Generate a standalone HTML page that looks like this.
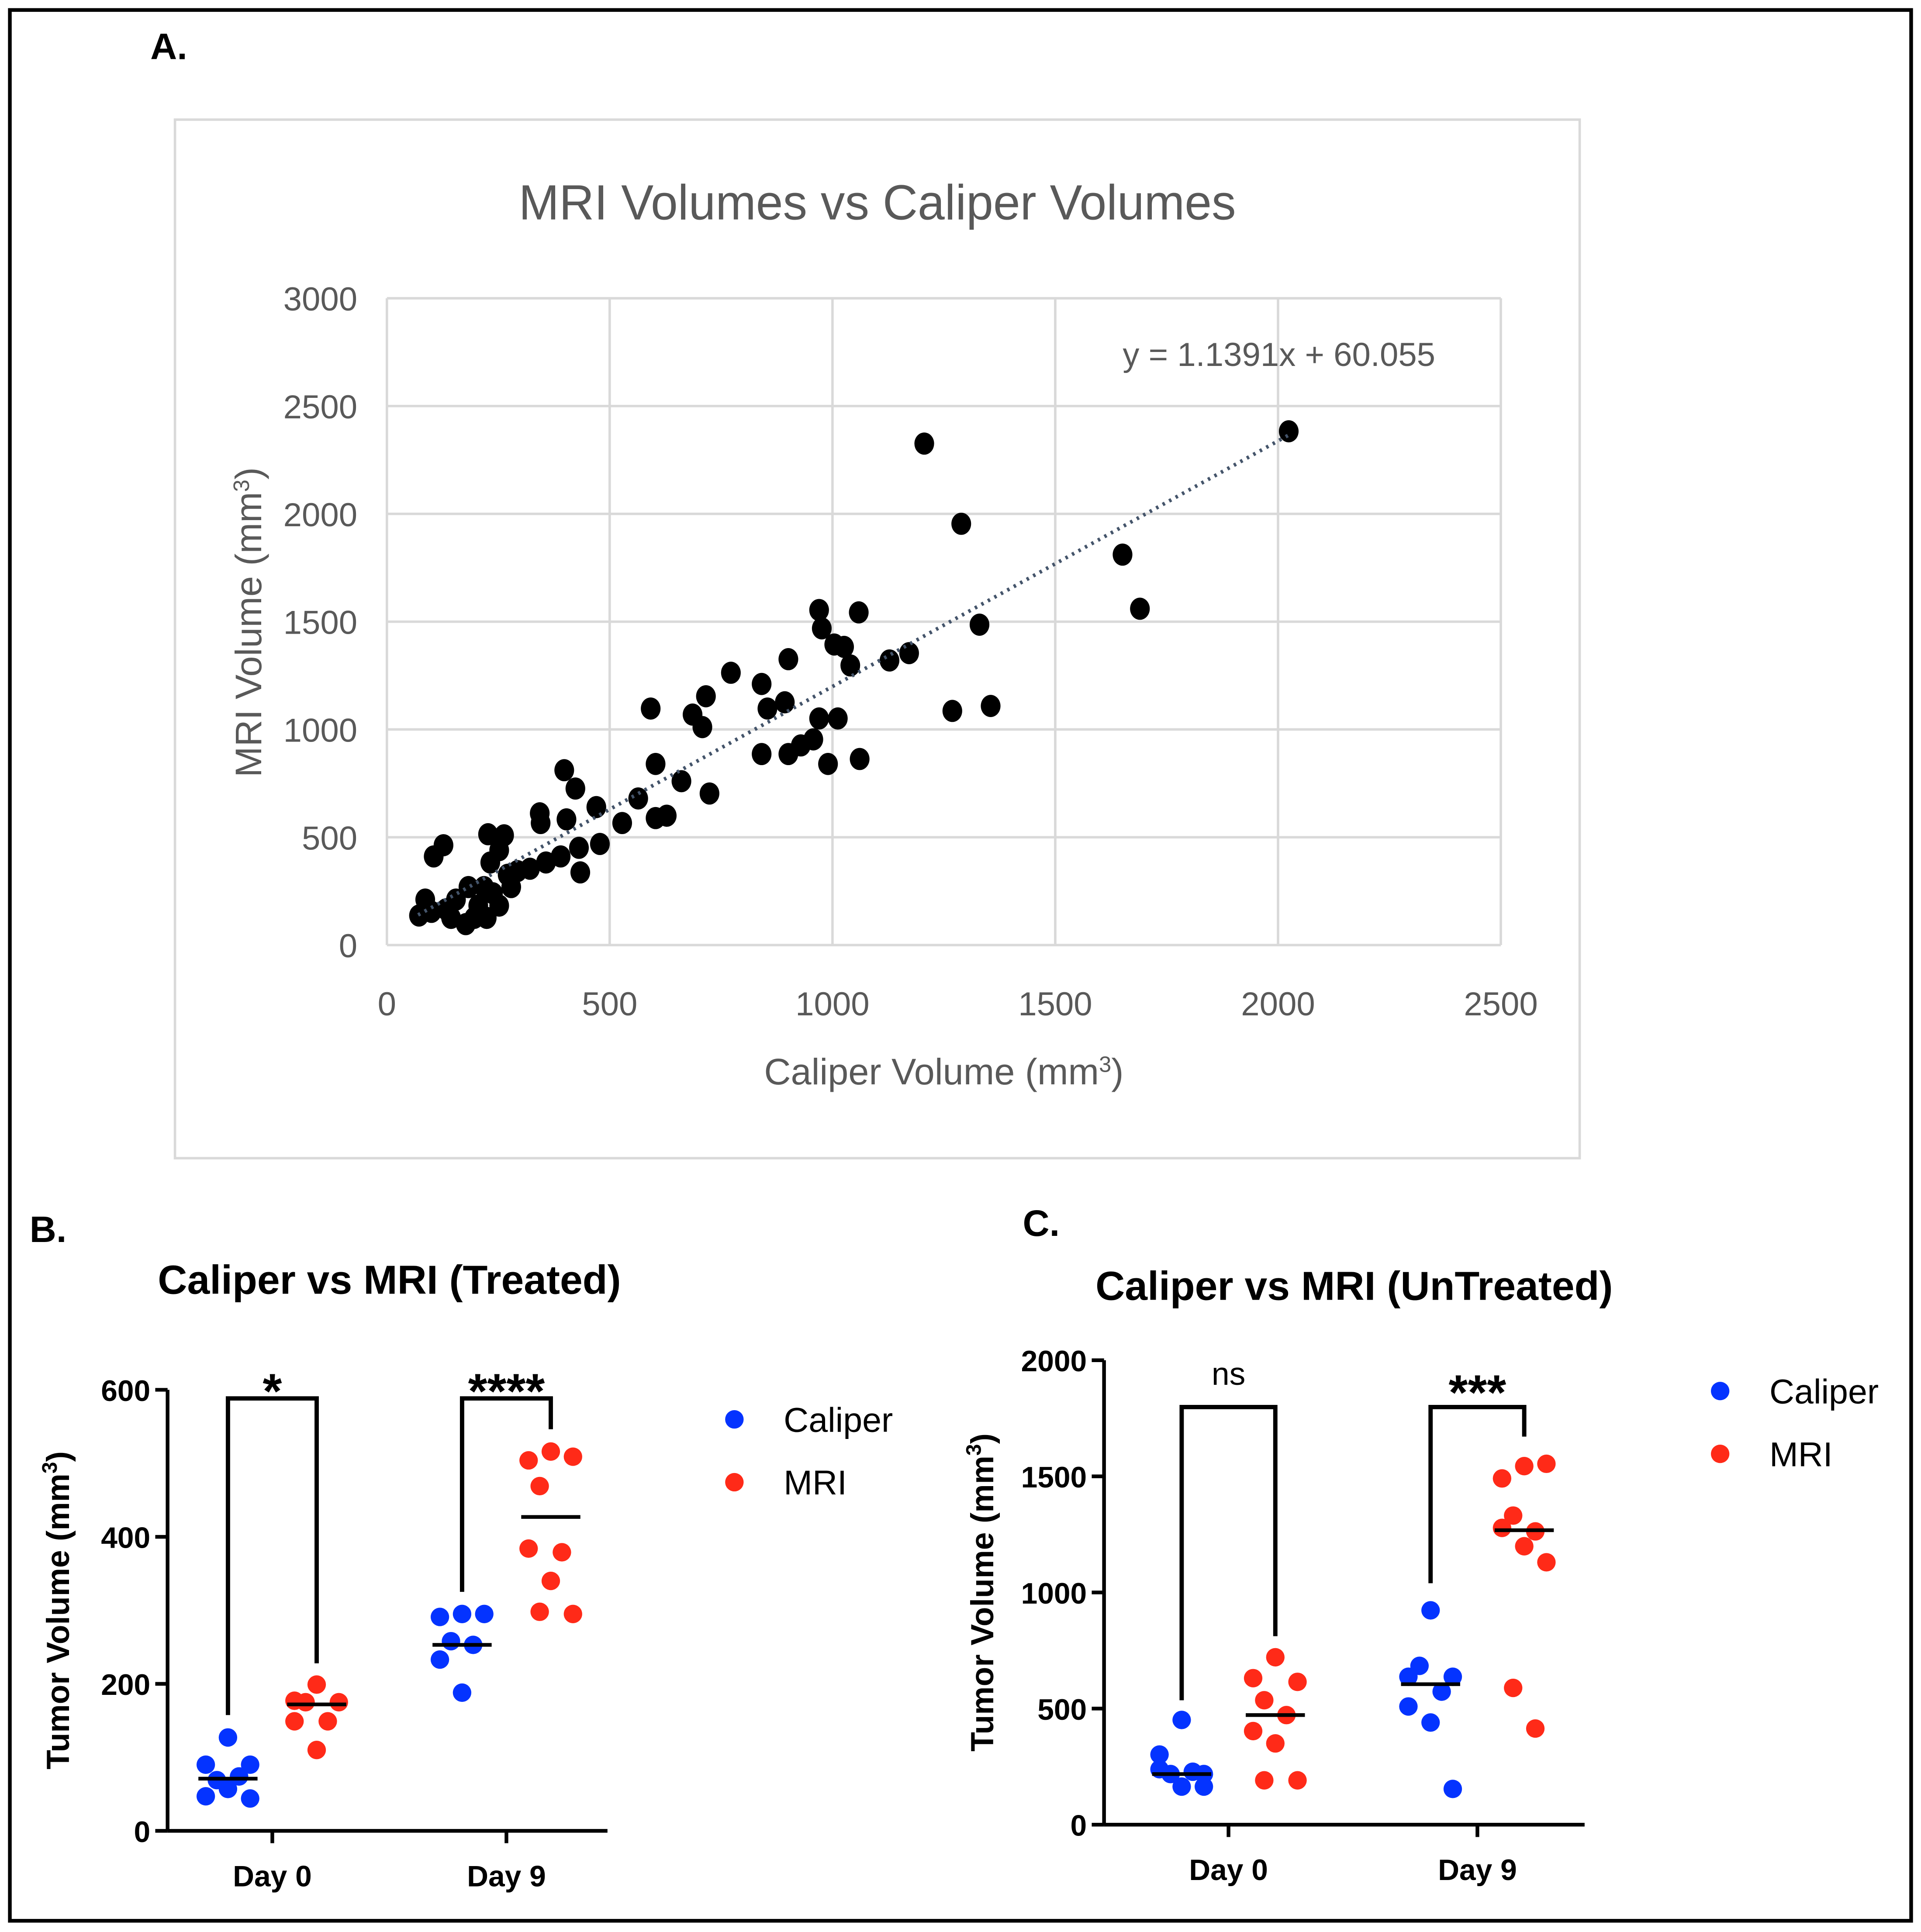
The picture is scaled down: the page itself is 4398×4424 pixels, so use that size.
<!DOCTYPE html>
<html><head><meta charset="utf-8"><style>
html,body{margin:0;padding:0;background:#fff;}
svg{display:block;}
text{font-family:"Liberation Sans",sans-serif;}
</style></head><body>
<svg id="fig" width="4398" height="4424" viewBox="0 0 1559 1568" xmlns="http://www.w3.org/2000/svg">
<rect x="8" y="8" width="1543" height="1551" fill="#fff" stroke="#000" stroke-width="3"/>
<text x="122" y="48" font-size="30" font-weight="bold">A.</text>
<rect x="142" y="97" width="1140" height="843" fill="#fff" stroke="#d9d9d9" stroke-width="2"/>
<text x="712" y="178" font-size="40" fill="#595959" text-anchor="middle" textLength="582" lengthAdjust="spacingAndGlyphs">MRI Volumes vs Caliper Volumes</text>
<g id="scatter"></g>
<text x="1038" y="297" font-size="27" fill="#595959" text-anchor="middle">y = 1.1391x + 60.055</text>
<text x="766" y="880" font-size="30" fill="#595959" text-anchor="middle">Caliper Volume (mm<tspan dy="-10" font-size="18">3</tspan><tspan dy="10">)</tspan></text>
<text transform="translate(212,505) rotate(-90)" font-size="30" fill="#595959" text-anchor="middle">MRI Volume (mm<tspan dy="-10" font-size="18">3</tspan><tspan dy="10">)</tspan></text>

<text x="24" y="1008" font-size="30" font-weight="bold">B.</text>
<text x="316" y="1050" font-size="33" font-weight="bold" text-anchor="middle">Caliper vs MRI (Treated)</text>
<text x="830" y="1003" font-size="30" font-weight="bold">C.</text>
<text x="1099" y="1055" font-size="33" font-weight="bold" text-anchor="middle">Caliper vs MRI (UnTreated)</text>
<g id="panelB"></g>
<g id="panelC"></g>
</svg>
<script>
const NS="http://www.w3.org/2000/svg";
function mk(parent,tag,attrs,txt){const e=document.createElementNS(NS,tag);for(const k in attrs)e.setAttribute(k,attrs[k]);if(txt!==undefined)e.textContent=txt;parent.appendChild(e);return e;}

// ---- Panel A data ----
const scatterX=[1206,2024,1289,1651,1690,1330,1269,1355,1059,970,976,1004,1026,1040,1128,1172,901,772,716,686,708,592,841,854,893,841,901,929,957,970,1012,990,1061,603,628,603,661,724,564,528,470,478,431,398,423,403,343,345,434,390,357,321,293,252,263,227,232,218,252,205,183,155,177,133,100,72,105,127,86,271,196,224,238,144,279];
const scatterY=[2326,2383,1954,1811,1560,1486,1086,1109,1543,1554,1469,1394,1383,1297,1320,1354,1326,1263,1154,1069,1011,1097,1211,1097,1126,886,886,926,954,1051,1051,840,863,840,600,589,760,703,680,566,640,469,451,811,726,583,611,566,337,411,383,354,343,440,509,514,383,269,183,183,269,211,97,166,154,137,411,463,211,326,126,126,240,126,269];
const xTicks=[0,500,1000,1500,2000,2500];
const yTicks=[0,500,1000,1500,2000,2500,3000];
const trendSlope=1.1391, trendIntercept=60.055, trendRange=[70,2024];

const sx=v=>314+v*(1218-314)/2500;
const sy=v=>767-v*(767-242)/3000;
const sc=document.getElementById('scatter');
xTicks.forEach(t=>{
  const l=mk(sc,'line',{x1:sx(t),x2:sx(t),y1:242,y2:767,stroke:'#d9d9d9','stroke-width':2});
  
  
  const tx=mk(sc,'text',{x:sx(t),y:824,'font-size':27,fill:'#595959','text-anchor':'middle'},t);
  
  
});
yTicks.forEach(t=>{
  const l=mk(sc,'line',{x1:314,x2:1218,y1:sy(t),y2:sy(t),stroke:'#d9d9d9','stroke-width':2});
  
  
  const tx=mk(sc,'text',{x:290,y:sy(t)+10,'font-size':27,fill:'#595959','text-anchor':'end'},t);
  
  
});
scatterX.forEach((x,i)=>{
  const c=mk(sc,'ellipse',{cx:sx(x),cy:sy(scatterY[i]),rx:8,ry:9,fill:'#000'});
  
  
});
const tl=mk(sc,'line',{x1:sx(trendRange[0]),y1:sy(trendSlope*trendRange[0]+trendIntercept),x2:sx(trendRange[1]),y2:sy(trendSlope*trendRange[1]+trendIntercept),stroke:'#44546a','stroke-width':3,'stroke-dasharray':'2 4'});



// ---- Panel B data ----
const bGroups=['Day 0','Day 9'];
const bCaliperD0=[127,90,90,69,74,47,57,44];
const bMriD0=[199,177,175,175,149,149,110];
const bCaliperD9=[295,291,295,258,253,233,188];
const bMriD9=[516,504,509,469,379,384,340,295,298];
const bMedians=[71,172,253,427];
const bYTicks=[0,200,400,600];
const bSig=['*','****'];
// ---- Panel C data ----
const cGroups=['Day 0','Day 9'];
const cCaliperD0=[451,302,218,218,228,239,164,164];
const cMriD0=[721,631,615,536,472,403,350,191,191];
const cCaliperD9=[923,637,637,684,573,509,440,154];
const cMriD9=[1544,1491,1554,1331,1263,1278,1199,1130,589,414];
const cMedians=[218,472,605,1268];
const cYTicks=[0,500,1000,1500,2000];
const cSig=['ns','***'];

const jitter=[0,-18,18,-9,9,-18,0,18,-9,9];
function drawPanel(g,o){
  const y=v=>o.y0-v*(o.y0-o.yTop)/o.ymax;
  mk(g,'line',{x1:o.ax,x2:o.ax,y1:o.yTop,y2:o.y0,stroke:'#000','stroke-width':3});
  mk(g,'line',{x1:o.ax,x2:o.axEnd,y1:o.y0,y2:o.y0,stroke:'#000','stroke-width':3});
  o.yTicks.forEach(t=>{
    const l=mk(g,'line',{x1:o.ax-10,x2:o.ax,y1:y(t),y2:y(t),stroke:'#000','stroke-width':3});
    
    
    const tx=mk(g,'text',{x:o.ax-14,y:y(t)+9,'font-size':24,'font-weight':'bold','text-anchor':'end'},t);
    
    
  });
  o.groups.forEach((gn,i)=>{
    const cx=o.gx[i];
    mk(g,'line',{x1:cx,x2:cx,y1:o.y0,y2:o.y0+10,stroke:'#000','stroke-width':3});
    const tx=mk(g,'text',{x:cx,y:o.y0+45,'font-size':24,'font-weight':'bold','text-anchor':'middle'},gn);
    
    
    const sets=[[o.cal[i],'#0433ff',-o.off],[o.mri[i],'#ff2a18',o.off]];
    sets.forEach(([vals,col,off],k)=>{
      vals.forEach((v,j)=>{
        const c=mk(g,'circle',{cx:cx+off+jitter[j%jitter.length],cy:y(v),r:7.5,fill:col});
        
        
      });
      const m=o.med[i*2+k];
      const ml=mk(g,'line',{x1:cx+off-24,x2:cx+off+24,y1:y(m),y2:y(m),stroke:'#000','stroke-width':3});
      
      
    });
    const bl=cx-o.off, br=cx+o.off, top=o.brTop[i];
    const p=mk(g,'path',{d:`M${bl},${o.brL[i]} V${top} H${br} V${o.brR[i]}`,fill:'none',stroke:'#000','stroke-width':3.5});
    
    
    const st=mk(g,'text',{x:cx,y:top-o.sigDy[i],'font-size':o.sig[i]==='ns'?26:40,'font-weight':o.sig[i]==='ns'?'normal':'bold','text-anchor':'middle'},o.sig[i]);
    
    
  });
  const yl=mk(g,'text',{transform:`translate(${o.ylx},${(o.y0+o.yTop)/2}) rotate(-90)`,'font-size':26,'font-weight':'bold','text-anchor':'middle'});
  
  
  yl.innerHTML='Tumor Volume (mm<tspan dy="-10" font-size="17">3</tspan><tspan dy="10">)</tspan>';
  [['Caliper','#0433ff',0],['MRI','#ff2a18',1]].forEach(([n,col,k])=>{
    const c=mk(g,'circle',{cx:o.lgx,cy:o.lgy+k*51,r:7.5,fill:col});
    
    
    const t=mk(g,'text',{x:o.lgx+40,y:o.lgy+k*51+10,'font-size':28},n);
    
    
  });
}
drawPanel(document.getElementById('panelB'),{ax:136,axEnd:493,y0:1486,yTop:1128,ymax:600,yTicks:bYTicks,groups:bGroups,gx:[221,411],off:36,
  cal:[bCaliperD0,bCaliperD9],mri:[bMriD0,bMriD9],med:bMedians,sig:bSig,brTop:[1135,1135],brL:[1392,1292],brR:[1350,1160],sigDy:[-8,-8],
  ylx:56,lgx:596,lgy:1152});
drawPanel(document.getElementById('panelC'),{ax:896,axEnd:1286,y0:1481,yTop:1104,ymax:2000,yTicks:cYTicks,groups:cGroups,gx:[997,1199],off:38,
  cal:[cCaliperD0,cCaliperD9],mri:[cMriD0,cMriD9],med:cMedians,sig:cSig,brTop:[1142,1142],brL:[1380,1285],brR:[1328,1166],sigDy:[18,-2],
  ylx:806,lgx:1396,lgy:1129});
</script>
</body></html>
